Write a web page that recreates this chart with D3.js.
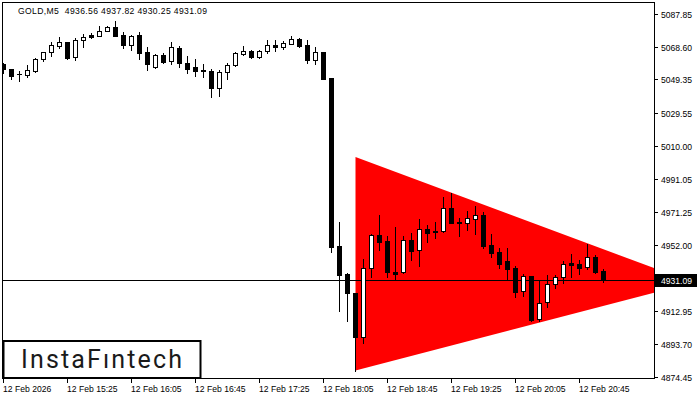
<!DOCTYPE html>
<html><head><meta charset="utf-8">
<script src="https://cdn.jsdelivr.net/npm/d3@7"></script>
<style>html,body{margin:0;padding:0;background:#fff;}svg{display:block;}</style>
</head><body>
<svg id="c" width="700" height="400"></svg>
<script>
const title = "GOLD,M5  4936.56 4937.82 4930.25 4931.09";
const opens  = [5058.43,5055.2,5052.5,5051.96,5054.49,5061.20,5065.32,5069.20,5071.20,5062.73,5072.38,5075.32,5075.08,5077.85,5080.03,5075.32,5069.61,5075.32,5065.32,5056.85,5063.73,5060.20,5067.67,5058.85,5056.67,5055.08,5054.14,5044.14,5053.55,5057.67,5064.49,5066.08,5062.73,5065.90,5069.61,5068.61,5070.38,5073.14,5069.61,5060.61,5065.49,5050.20,4951.35,4934.88,4923.52,4897.63,4938.22,4957.82,4954.29,4936.05,4935.88,4954.88,4948.82,4961.18,4960.18,4960.00,4973.53,4965.65,4964.71,4967.41,4969.41,4951.76,4947.82,4942.35,4938.41,4924.88,4933.52,4908.22,4918.23,4928.82,4932.94,4941.17,4940.76,4938.82,4944.88,4936.56];
const highs  = [5059.02,5055.6,5054.31,5057.85,5061.79,5065.67,5071.20,5074.32,5071.55,5073.91,5076.26,5076.67,5080.79,5080.50,5083.73,5077.09,5075.50,5077.09,5068.26,5064.14,5064.91,5071.20,5069.02,5062.96,5061.38,5058.26,5055.49,5054.90,5059.20,5065.32,5069.20,5066.50,5066.50,5072.56,5072.56,5071.97,5074.91,5073.56,5072.56,5068.26,5065.67,5050.20,4965.65,4935.64,4923.70,4943.70,4958.41,4969.59,4957.23,4962.35,4957.23,4959.18,4967.06,4963.71,4965.47,4980.18,4982.71,4967.65,4971.95,4974.88,4971.35,4958.41,4949.99,4950.17,4939.58,4934.88,4933.88,4930.93,4934.11,4934.11,4942.53,4946.46,4943.11,4952.35,4945.88,4937.82];
const lows   = [5053.14,5049.8,5048.61,5050.96,5053.90,5060.38,5063.32,5068.02,5061.55,5060.96,5068.61,5073.55,5074.73,5077.56,5074.73,5067.67,5066.85,5061.20,5054.73,5055.90,5059.02,5058.61,5056.85,5053.32,5051.55,5050.96,5039.19,5039.78,5049.43,5057.26,5063.73,5062.14,5062.14,5065.08,5066.26,5067.44,5070.20,5068.26,5059.20,5058.26,5049.78,4948.00,4913.28,4907.40,4877.98,4894.45,4933.29,4948.99,4933.29,4931.35,4935.29,4943.11,4939.76,4953.88,4955.88,4959.59,4964.88,4957.41,4960.77,4958.59,4950.17,4945.05,4938.58,4931.35,4921.05,4922.11,4907.40,4907.04,4915.64,4926.46,4929.76,4933.29,4934.88,4938.00,4935.47,4930.25];
const closes = [5055.32,5051.5,5052.3,5054.90,5061.38,5065.32,5069.61,5071.38,5062.14,5072.38,5074.32,5074.32,5077.85,5080.03,5075.08,5069.43,5074.73,5065.08,5058.26,5063.55,5059.32,5068.26,5058.85,5055.67,5054.49,5054.31,5044.14,5053.55,5057.85,5064.73,5066.08,5062.55,5066.08,5069.43,5068.61,5070.61,5073.14,5068.85,5060.61,5065.49,5049.78,4950.94,4934.46,4923.52,4897.99,4938.22,4957.65,4953.88,4936.23,4935.05,4954.88,4948.59,4961.18,4959.18,4959.41,4973.53,4965.06,4964.71,4967.65,4969.41,4951.35,4947.41,4940.76,4938.00,4924.47,4933.88,4907.81,4917.64,4928.82,4932.94,4940.59,4940.35,4938.58,4944.70,4935.88,4931.09];
const yTicks = [5087.85,5068.60,5049.35,5029.55,5010.00,4991.05,4971.25,4952.00,4912.95,4893.70,4874.45];
const xTickIdx = [0,8,16,24,32,40,48,56,64,72];
const xTickLabels = ["12 Feb 2026","12 Feb 15:25","12 Feb 16:05","12 Feb 16:45","12 Feb 17:25","12 Feb 18:05","12 Feb 18:45","12 Feb 19:25","12 Feb 20:05","12 Feb 20:45"];
const currentPrice = 4931.09;
const triIdx = [44, 86.2, 44];
const triPrice = [5003.7, 4929.8, 4878.1];
const logoText = "InstaF\u0131ntech";

const svg = d3.select("#c");
const L = 2, R = 654, T = 2, B = 378;
const x = d3.scaleLinear().domain([0, 1]).range([3.5, 11.5]);
const y = d3.scaleLinear().domain([4874.45, 5087.85]).range([376.7, 14]);
const font = "'Liberation Sans', Arial, sans-serif";

svg.append("defs").append("clipPath").attr("id","pc")
  .append("rect").attr("x",L).attr("y",T).attr("width",R-L).attr("height",B-T);

// triangle
const tri = triIdx.map((d,i)=>[x(d), y(triPrice[i])]);
svg.append("path").attr("clip-path","url(#pc)")
  .attr("d", d3.line()(tri) + "Z").attr("fill","#ff0000");

// current price line
const cy = Math.round(y(currentPrice)) + 0.5;
svg.append("line").attr("x1",L).attr("x2",R).attr("y1",cy).attr("y2",cy)
  .attr("stroke","#000").attr("stroke-width",1);

// candles
const data = opens.map((o,i)=>({i,o,h:highs[i],l:lows[i],c:closes[i]}));
const g = svg.append("g").attr("clip-path","url(#pc)");
data.forEach(d=>{
  const cx = Math.round(x(d.i) - 0.5);
  const yh = Math.round(y(d.h)), yl = Math.round(y(d.l));
  g.append("rect").attr("x",cx).attr("y",yh).attr("width",1).attr("height",Math.max(1,yl-yh+1)).attr("fill","#000");
  const top = Math.round(y(Math.max(d.o,d.c))), bot = Math.round(y(Math.min(d.o,d.c)));
  const hgt = Math.max(1, bot-top+1);
  if (d.c < d.o) {
    g.append("rect").attr("x",cx-2).attr("y",top).attr("width",5).attr("height",hgt).attr("fill","#000");
  } else if (hgt <= 2) {
    g.append("rect").attr("x",cx-2).attr("y",top).attr("width",5).attr("height",hgt).attr("fill","#000");
  } else {
    g.append("rect").attr("x",cx-1.5).attr("y",top+0.5).attr("width",4).attr("height",hgt-1)
      .attr("fill","#fff").attr("stroke","#000").attr("stroke-width",1);
  }
});

// frame
svg.append("rect").attr("x",L+0.5).attr("y",T+0.5).attr("width",R-L).attr("height",B-T)
  .attr("fill","none").attr("stroke","#000");

// y axis ticks
const ya = svg.append("g");
yTicks.forEach(v=>{
  const ty = Math.round(y(v)) + 0.5;
  ya.append("line").attr("x1",R).attr("x2",R+4).attr("y1",ty).attr("y2",ty).attr("stroke","#000");
  ya.append("text").attr("x",661).attr("y",ty).attr("dy","0.35em")
    .attr("font-family",font).attr("font-size","8.6px").attr("fill","#000").text(v.toFixed(2));
});
// current price label
ya.append("rect").attr("x",655).attr("y",cy-6.5).attr("width",42).attr("height",13).attr("fill","#000");
ya.append("text").attr("x",661).attr("y",cy).attr("dy","0.35em")
  .attr("font-family",font).attr("font-size","8.6px").attr("fill","#fff").text(currentPrice.toFixed(2));

// x axis ticks
xTickIdx.forEach((v,k)=>{
  const tx = Math.round(x(v) - 0.5) + 0.5;
  svg.append("line").attr("x1",tx).attr("x2",tx).attr("y1",B).attr("y2",B+5).attr("stroke","#000");
  svg.append("text").attr("x",tx-0.5).attr("y",392)
    .attr("font-family",font).attr("font-size","8.6px").attr("fill","#000").text(xTickLabels[k]);
});

// title
svg.append("text").attr("x",18).attr("y",14).attr("font-family",font).attr("font-size","8.6px")
  .attr("fill","#000").attr("xml:space","preserve").style("white-space","pre")
  .attr("textLength",189).attr("lengthAdjust","spacing").text(title);

// logo
svg.append("rect").attr("x",3.5).attr("y",341).attr("width",197).attr("height",37)
  .attr("fill","#fff").attr("stroke","#000").attr("stroke-width",2);
svg.append("text").attr("x",21).attr("y",368).attr("font-family","Roboto, sans-serif")
  .attr("font-weight",400).attr("font-size","25px").attr("fill","#1a1a1a")
  .attr("textLength",161).attr("lengthAdjust","spacing").text(logoText);
</script>
</body></html>
